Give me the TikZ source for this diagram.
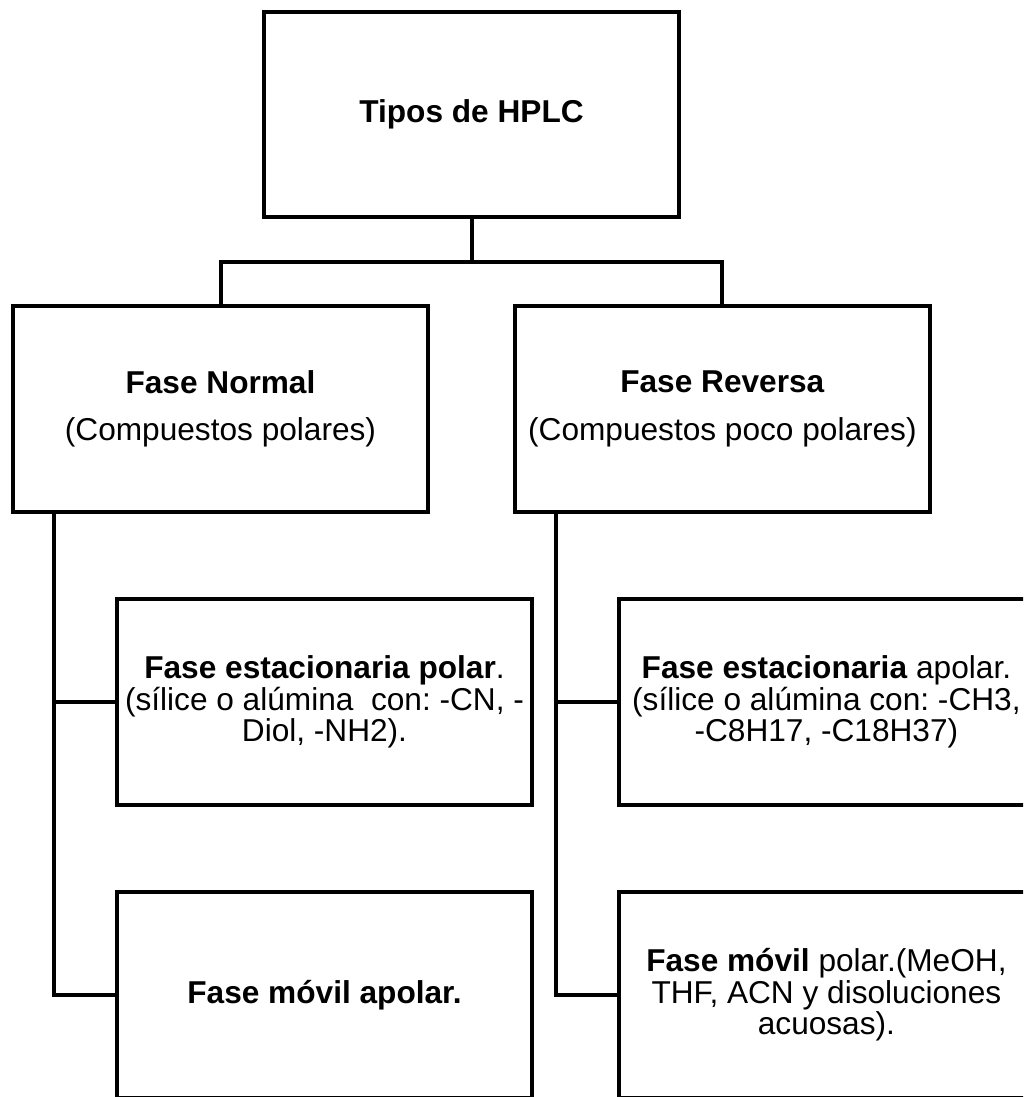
\documentclass[tikz,border=0pt]{standalone}
\usepackage{fontspec}
\setmainfont{Liberation Sans}
\usetikzlibrary{positioning}

\begin{document}
\frenchspacing
\begin{tikzpicture}[x=0.02cm,y=-0.02cm,node distance=1.74cm,
  caja/.style={draw,line width=0.08cm,outer sep=0pt,inner sep=0.08cm,
    minimum width=8.3cm,minimum height=4.12cm,align=center,
    font=\fontsize{18}{18}\selectfont},
  linea/.style={line width=0.08cm}]

\useasboundingbox (0,0) rectangle (1023,1097);
\clip (0,0) rectangle (1023,1097);

\node[caja] (tipos) at (471.5,114.5) {\textbf{Tipos de HPLC}};
\node[caja] (normal) at (220.5,409) {\textbf{Fase Normal}\\[9pt](Compuestos polares)};
\node[caja] (reversa) [right=of normal] {\textbf{Fase Reversa}\\[9pt](Compuestos poco polares)};

\node[caja] (estnormal) at (324.5,702) {\textbf{Fase estacionaria polar}.\\(sílice o alúmina\ \ con: -CN, -\\Diol, -NH2).};
\node[caja] (estreversa) [right=of estnormal] {\textbf{Fase estacionaria} apolar.\\(sílice o alúmina con: -CH3,\\-C8H17, -C18H37)};
\node[caja] (movnormal) [below=of estnormal] {\textbf{Fase móvil apolar.}};
\node[caja] (movreversa) [below=of estreversa] {\textbf{Fase móvil} polar.(MeOH,\\THF, ACN y disoluciones\\acuosas).};

% From the top box to both phases
\draw[linea] (tipos.south) -- ++(0,45) -| (normal.north);
\draw[linea] (tipos.south) -- ++(0,45) -| (reversa.north);
% Normal phase branch
\draw[linea] ([xshift=0.82cm]normal.south west) |- (estnormal.west);
\draw[linea] ([xshift=0.82cm]normal.south west) |- (movnormal.west);
% Reversed phase branch
\draw[linea] ([xshift=0.82cm]reversa.south west) |- (estreversa.west);
\draw[linea] ([xshift=0.82cm]reversa.south west) |- (movreversa.west);
\end{tikzpicture}
\end{document}
